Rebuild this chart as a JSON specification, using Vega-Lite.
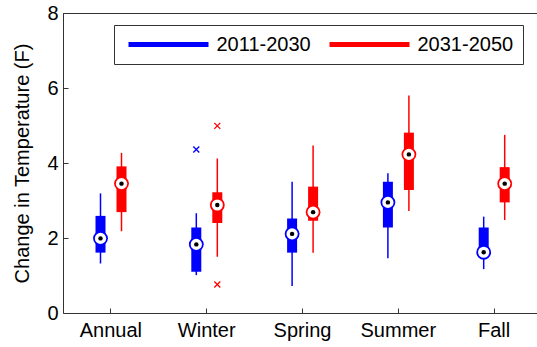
{
  "$schema": "https://vega.github.io/schema/vega-lite/v6.json",
  "width": 474,
  "height": 300,
  "autosize": {"type": "none"},
  "padding": {"left": 63, "top": 13, "right": 0, "bottom": 34},
  "config": {
    "view": {"stroke": "#333333", "strokeWidth": 1},
    "font": "Liberation Sans",
    "axis": {
      "domain": false,
      "tickColor": "#333333",
      "labelColor": "#000000",
      "labelFontSize": 20,
      "titleFontSize": 20,
      "titleFontWeight": "normal",
      "titleColor": "#000000",
      "grid": false,
      "tickSize": -5,
      "tickWidth": 1
    }
  },
  "datasets": {
    "boxes": [
      {"season": "Annual", "period": "2011-2030", "lo": 1.32, "q1": 1.61, "med": 1.99, "q3": 2.59, "hi": 3.19},
      {"season": "Annual", "period": "2031-2050", "lo": 2.18, "q1": 2.69, "med": 3.45, "q3": 3.91, "hi": 4.27},
      {"season": "Winter", "period": "2011-2030", "lo": 1.01, "q1": 1.10, "med": 1.83, "q3": 2.28, "hi": 2.66},
      {"season": "Winter", "period": "2031-2050", "lo": 1.50, "q1": 2.40, "med": 2.88, "q3": 3.22, "hi": 4.12},
      {"season": "Spring", "period": "2011-2030", "lo": 0.72, "q1": 1.61, "med": 2.11, "q3": 2.52, "hi": 3.50},
      {"season": "Spring", "period": "2031-2050", "lo": 1.61, "q1": 2.46, "med": 2.69, "q3": 3.37, "hi": 4.47},
      {"season": "Summer", "period": "2011-2030", "lo": 1.46, "q1": 2.28, "med": 2.95, "q3": 3.50, "hi": 3.73},
      {"season": "Summer", "period": "2031-2050", "lo": 2.72, "q1": 3.28, "med": 4.23, "q3": 4.81, "hi": 5.80},
      {"season": "Fall", "period": "2011-2030", "lo": 1.17, "q1": 1.60, "med": 1.62, "q3": 2.28, "hi": 2.57},
      {"season": "Fall", "period": "2031-2050", "lo": 2.48, "q1": 2.95, "med": 3.45, "q3": 3.89, "hi": 4.75}
    ],
    "outliers": [
      {"season": "Winter", "period": "2011-2030", "value": 4.36},
      {"season": "Winter", "period": "2031-2050", "value": 4.99},
      {"season": "Winter", "period": "2031-2050", "value": 0.76}
    ]
  },
  "resolve": {"axis": {"x": "independent", "y": "independent"}},
  "layer": [
    {
      "data": {"name": "boxes"},
      "mark": {"type": "rule", "strokeWidth": 1.5},
      "encoding": {
        "x": {
          "field": "season", "type": "nominal",
          "sort": ["Annual", "Winter", "Spring", "Summer", "Fall"],
          "scale": {"type": "band", "range": [0, 479], "paddingInner": 0, "paddingOuter": 0},
          "axis": {"orient": "bottom", "title": null, "labelAngle": 0, "labelPadding": 12}
        },
        "xOffset": {
          "field": "period", "type": "nominal",
          "scale": {"type": "band", "range": [27, 69], "paddingInner": 0, "paddingOuter": 0}
        },
        "y": {
          "field": "lo", "type": "quantitative",
          "scale": {"domain": [0, 8], "nice": false, "zero": false},
          "axis": {"orient": "left", "values": [0, 2, 4, 6, 8], "title": "Change in Temperature (F)", "labelPadding": 10, "titlePadding": 14}
        },
        "y2": {"field": "hi"},
        "color": {
          "field": "period", "type": "nominal",
          "scale": {"domain": ["2011-2030", "2031-2050"], "range": ["#0000ff", "#ff0000"]},
          "legend": {
            "orient": "none", "legendX": 51, "legendY": 12, "direction": "horizontal",
            "title": null, "symbolType": "M-8,0H8", "symbolSize": 100, "symbolStrokeWidth": 5,
            "labelFontSize": 20, "labelColor": "#000000", "labelOffset": 38, "columnPadding": 8,
            "strokeColor": "#333333", "fillColor": "#ffffff", "padding": 9.5, "symbolOffset": 35,
            "cornerRadius": 0
          }
        }
      }
    },
    {
      "data": {"name": "boxes"},
      "mark": {"type": "bar", "size": 10},
      "encoding": {
        "x": {"field": "season", "type": "nominal", "sort": ["Annual", "Winter", "Spring", "Summer", "Fall"], "axis": null},
        "xOffset": {"field": "period", "type": "nominal"},
        "y": {"field": "q1", "type": "quantitative", "axis": null},
        "y2": {"field": "q3"},
        "color": {"field": "period", "type": "nominal", "legend": null}
      }
    },
    {
      "data": {"name": "boxes"},
      "mark": {"type": "point", "shape": "circle", "filled": true, "fill": "#ffffff", "size": 170, "strokeWidth": 1.8, "opacity": 1},
      "encoding": {
        "x": {"field": "season", "type": "nominal", "sort": ["Annual", "Winter", "Spring", "Summer", "Fall"], "axis": null},
        "xOffset": {"field": "period", "type": "nominal"},
        "y": {"field": "med", "type": "quantitative", "axis": null},
        "stroke": {
          "field": "period", "type": "nominal",
          "scale": {"domain": ["2011-2030", "2031-2050"], "range": ["#0000ff", "#ff0000"]},
          "legend": null
        }
      }
    },
    {
      "data": {"name": "boxes"},
      "mark": {"type": "point", "shape": "circle", "filled": true, "color": "#000000", "size": 20, "opacity": 1},
      "encoding": {
        "x": {"field": "season", "type": "nominal", "sort": ["Annual", "Winter", "Spring", "Summer", "Fall"], "axis": null},
        "xOffset": {"field": "period", "type": "nominal"},
        "y": {"field": "med", "type": "quantitative", "axis": null}
      }
    },
    {
      "data": {"name": "outliers"},
      "mark": {"type": "point", "shape": "M-1,-1L1,1M-1,1L1,-1", "filled": false, "size": 36, "strokeWidth": 1.3, "opacity": 1},
      "encoding": {
        "x": {"field": "season", "type": "nominal", "sort": ["Annual", "Winter", "Spring", "Summer", "Fall"], "axis": null},
        "xOffset": {"field": "period", "type": "nominal"},
        "y": {"field": "value", "type": "quantitative", "axis": null},
        "stroke": {"field": "period", "type": "nominal", "legend": null}
      }
    }
  ]
}
